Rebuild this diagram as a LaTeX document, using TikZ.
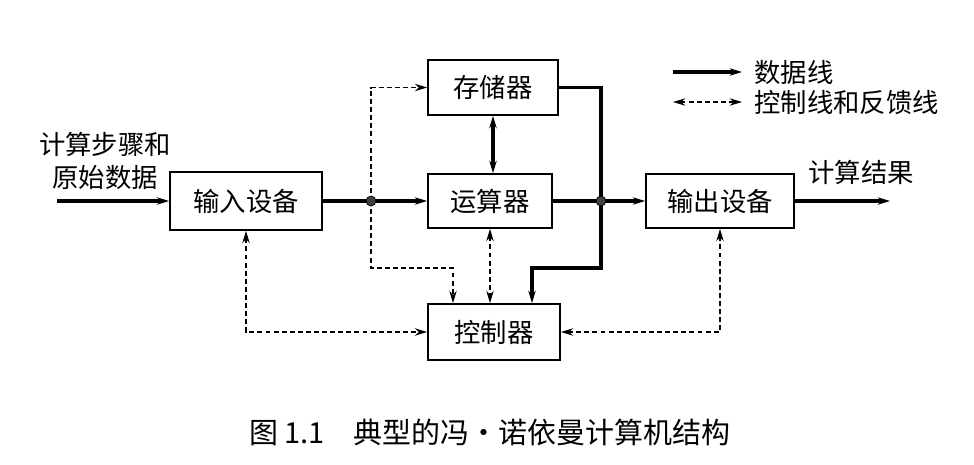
\documentclass[tikz,border=0pt]{standalone}
\usepackage{fontspec}
\newfontfamily\cjk{Noto Sans CJK SC}
\usepackage{tikz}
\usetikzlibrary{arrows.meta,positioning,calc}

\begin{document}
\begin{tikzpicture}[
  x=0.02cm, y=-0.02cm,
  every node/.style={font=\cjk\fontsize{15}{19}\selectfont},
  unitbox/.style={draw, line width=1pt, inner sep=0pt, minimum height=1.1cm, fill=white},
  data/.style={line width=2pt},
  ctl/.style={line width=0.9pt, dash pattern=on 2.8pt off 1.8pt},
  tip/.style={-{Stealth[length=7pt,width=4.2pt]}},
  tips/.style={{Stealth[length=7pt,width=4.2pt]}-{Stealth[length=7pt,width=4.2pt]}},
  dot/.style={circle, fill=black!75, draw=black, inner sep=0pt, minimum size=0.2cm}
]
\useasboundingbox (0,0) rectangle (974,464);

% Units
\node[unitbox, minimum width=2.6cm] (store) at (493,87.5) {存储器};
\node[unitbox, minimum width=2.48cm, minimum height=1.08cm] (alu) at (490,201) {运算器};
\node[unitbox, minimum width=2.64cm, minimum height=1.12cm] (ctrl) at (494,332) {控制器};
\node[unitbox, minimum width=3.04cm, minimum height=1.16cm] (inp) at (246,201) {输入设备};
\node[unitbox, minimum width=2.96cm, minimum height=1.08cm] (outp) at (720,201) {输出设备};

% Junctions
\coordinate (ldot) at (371,201);
\coordinate (rdot) at (601,201);
\coordinate (src) at (57,201);
\coordinate (res) at (890,201);
\coordinate (jl) at (453,268);
\coordinate (jr) at (601,268);
\coordinate (jc) at (532,268);

% Data lines
\draw[data, tip] (src) -- (inp.west);
\draw[data, tip] (inp.east) -- (alu.west);
\draw[data, tip] (alu.east) -- (outp.west);
\draw[data, tip] (outp.east) -- (res);
\draw[data, tips] (store.south) -- (store.south |- alu.north);
\draw[data, tip] (store.east) -| (jr) -- (jc) -- (jc |- ctrl.north);

% Control and feedback lines
\draw[ctl, tip] (ldot) |- (store.west);
\draw[ctl, tip] (ldot) |- (jl) -- (jl |- ctrl.north);
\draw[ctl, tips] (alu.south) -- (alu.south |- ctrl.north);
\draw[ctl, tips] (inp.south) |- (ctrl.west);
\draw[ctl, tips] (outp.south) |- (ctrl.east);

\node[dot] (ld) at (ldot) {};
\node[dot] (rd) at (rdot) {};

% Labels
\node[align=center, inner sep=0pt] (steps) at (105,161) {计算步骤和\\原始数据};
\node[inner sep=0pt] (result) at (861,172) {计算结果};

% Legend
\coordinate (la1) at (673,72);
\coordinate (la2) at (742,72);
\coordinate (lb1) at (673,102);
\coordinate (lb2) at (742,102);
\draw[data, tip] (la1) -- (la2);
\draw[ctl, tips] (lb1) -- (lb2);
\node[anchor=west, inner sep=0pt] (ldata) at (754,72) {数据线};
\node[anchor=west, inner sep=0pt] (lctl) at (754,102) {控制线和反馈线};

% Caption
\node[inner sep=0pt, font=\cjk\fontsize{16.5}{20}\selectfont] (cap) at (490,432) {图 1.1\quad 典型的冯•诺依曼计算机结构};

\end{tikzpicture}
\end{document}
